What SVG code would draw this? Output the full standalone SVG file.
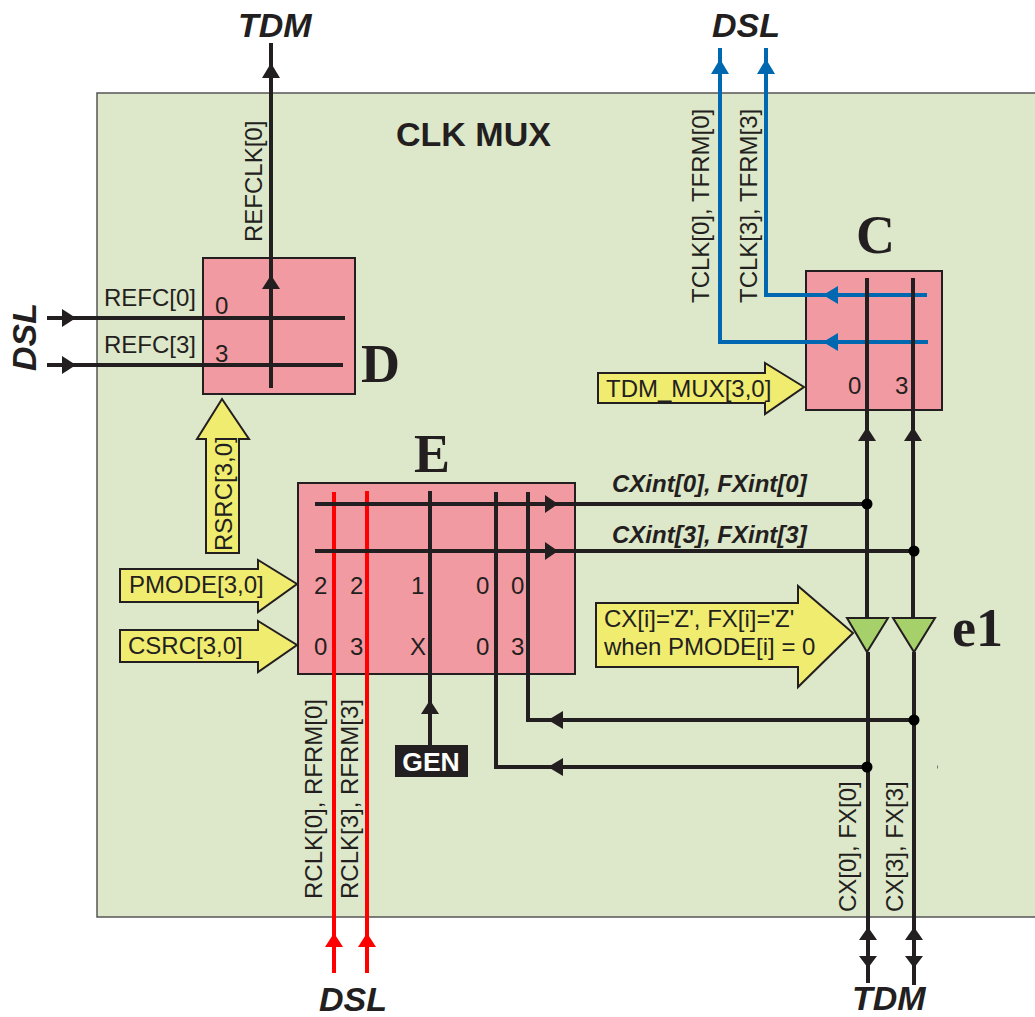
<svg xmlns="http://www.w3.org/2000/svg" width="1035" height="1017" viewBox="0 0 1035 1017">
<defs>
<style>
text{font-family:"Liberation Sans",Arial,sans-serif;fill:#231f20}
.l{font-size:24px}
.big{font-size:34px;font-weight:bold;font-style:italic}
.i{font-size:24px;font-weight:bold;font-style:italic}
.t{font-family:"Liberation Serif","Times New Roman",serif;font-size:54px;font-weight:bold}
.box{fill:#f29aa1;stroke:#231f20;stroke-width:2}
.ar{fill:#f0ec70;stroke:#231f20;stroke-width:2}
.tri{fill:#a6d16a;stroke:#231f20;stroke-width:2}
.k{fill:none;stroke:#231f20;stroke-width:4}
.r{fill:none;stroke:#ff0000;stroke-width:4}
.b{fill:none;stroke:#0068b0;stroke-width:4}
.hk{fill:#231f20}.hb{fill:#0068b0}.hr{fill:#ff0000}.d{fill:#000}
</style>
</defs>
<rect id="clk-mux" x="97" y="93" width="950" height="824" fill="#dde7c9" stroke="#555" stroke-width="1.5"/>
<text x="396" y="146" style="font-size:34px;font-weight:bold">CLK MUX</text>
<g id="node-d"><rect class="box" x="203" y="258" width="152" height="136"/><text class="l" x="215" y="314">0</text><text class="l" x="215" y="362">3</text><text class="t" x="361" y="382">D</text></g>
<g id="node-c"><rect class="box" x="806" y="271" width="136" height="139"/><text class="l" x="848" y="394">0</text><text class="l" x="895" y="394">3</text><text class="t" x="856" y="253">C</text></g>
<g id="node-e"><rect class="box" x="298" y="483" width="277" height="191"/>
<text class="l" x="314" y="594">2</text><text class="l" x="350" y="594">2</text><text class="l" x="411" y="594">1</text><text class="l" x="476" y="594">0</text><text class="l" x="511" y="594">0</text><text class="l" x="314" y="655">0</text><text class="l" x="350" y="655">3</text><text class="l" x="410" y="655">X</text><text class="l" x="476" y="655">0</text><text class="l" x="511" y="655">3</text><text class="t" x="414" y="472">E</text></g>
<g id="rsrc"><polygon class="ar" points="206,553 206,439 197,439 222,399 249,439 239,439 239,553"/><text class="l" transform="translate(232,551) rotate(-90)">RSRC[3,0]</text></g>
<g id="pmode"><polygon class="ar" points="120,569 258,569 258,560 297,584 258,612 258,602 120,602"/><text class="l" x="129" y="593">PMODE[3,0]</text></g>
<g id="csrc"><polygon class="ar" points="120,630 258,630 258,621 297,645 258,672 258,662 120,662"/><text class="l" x="128" y="654">CSRC[3,0]</text></g>
<g id="tdm-mux"><polygon class="ar" points="598,373 765,373 765,363 804,387 765,414 765,403 598,403"/><text class="l" x="606" y="397">TDM_MUX[3,0]</text></g>
<g id="note"><polygon class="ar" points="596,603 798,603 798,586 853,633 798,687 798,667 596,667"/><text class="l" x="604" y="627">CX[i]='Z', FX[i]='Z'</text><text class="l" x="604" y="655">when PMODE[i] = 0</text></g>
<g id="gen"><rect x="395" y="745" width="73" height="32" fill="#231f20"/><text x="431" y="771" text-anchor="middle" style="font-size:26.5px;font-weight:bold;fill:#fff">GEN</text></g>
<g id="connectors">
<path class="r" d="M334 492V973M367 491V973"/>
<path class="b" d="M927 295H766V48M928 342H720V48"/>
<path class="k" d="M271 43V388M47 318H345M47 365H343M315 504H867M315 551H914"/>
<path class="k" d="M430 491V745M496 492V767H867M528 492V720H914"/>
<path class="k" d="M867 278V618M913 278V618M868 652V983M914 652V985"/>
<path d="M937.5 765.500V768.500" stroke="#777" stroke-width="1" fill="none"/>
<polygon class="hk" points="271,63 262,78 280,78"/>
<polygon class="hk" points="271,275 262,289 280,289"/>
<polygon class="hk" points="76,318 62,309 62,327"/>
<polygon class="hk" points="76,365 62,356 62,374"/>
<polygon class="hk" points="558,504 545,495 545,513"/>
<polygon class="hk" points="558,551 545,542 545,560"/>
<polygon class="hk" points="430,700 421,714 439,714"/>
<polygon class="hk" points="548,720 563,711 563,729"/>
<polygon class="hk" points="548,767 563,758 563,776"/>
<polygon class="hk" points="867,427 858,441 876,441"/>
<polygon class="hk" points="913,427 904,441 922,441"/>
<polygon class="hk" points="868,927 859,940 877,940"/>
<polygon class="hk" points="914,927 905,940 923,940"/>
<polygon class="hk" points="868,968 859,956 877,956"/>
<polygon class="hk" points="914,968 905,956 923,956"/>
<polygon class="hb" points="720,59 711,74 729,74"/>
<polygon class="hb" points="766,59 757,74 775,74"/>
<polygon class="hb" points="823,295 838,286 838,304"/>
<polygon class="hb" points="823,342 838,333 838,351"/>
<polygon class="hr" points="334,933 325,947 343,947"/>
<polygon class="hr" points="367,933 358,947 376,947"/>
<circle class="d" cx="867" cy="504" r="5.500"/><circle class="d" cx="914" cy="551" r="5.500"/><circle class="d" cx="914" cy="720" r="5.500"/><circle class="d" cx="867" cy="767" r="5.500"/>
<polygon class="tri" points="847,618 888,618 867,652"/><polygon class="tri" points="893,618 935,618 914,652"/>
</g>
<g id="labels">
<text class="big" x="238" y="37">TDM</text><text class="big" x="712" y="37">DSL</text><text class="big" x="319" y="1011">DSL</text><text class="big" x="852" y="1009.500">TDM</text>
<text class="big" transform="translate(36,371) rotate(-90)">DSL</text>
<text class="l" x="104" y="306">REFC[0]</text><text class="l" x="104" y="353">REFC[3]</text>
<text class="l" transform="translate(262,242) rotate(-90)">REFCLK[0]</text>
<text class="l" transform="translate(709,303) rotate(-90)">TCLK[0], TFRM[0]</text>
<text class="l" transform="translate(757,303) rotate(-90)">TCLK[3], TFRM[3]</text>
<text class="l" transform="translate(322,899) rotate(-90)">RCLK[0], RFRM[0]</text>
<text class="l" transform="translate(358,899) rotate(-90)">RCLK[3], RFRM[3]</text>
<text class="l" transform="translate(856,912) rotate(-90)">CX[0], FX[0]</text>
<text class="l" transform="translate(903,912) rotate(-90)">CX[3], FX[3]</text>
<text class="i" x="612" y="492">CXint[0], FXint[0]</text><text class="i" x="612" y="543">CXint[3], FXint[3]</text>
<text class="t" x="952" y="646">e1</text>
</g>
</svg>
